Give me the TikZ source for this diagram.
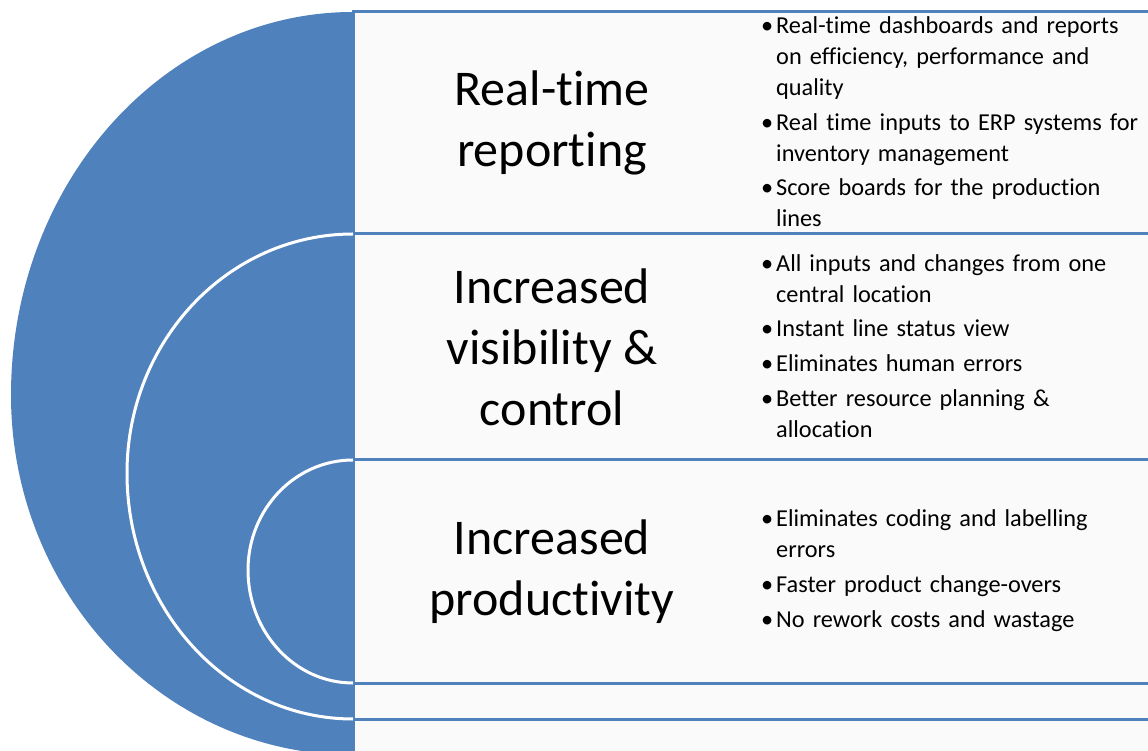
\documentclass[tikz,border=0pt]{standalone}
\usepackage{fontspec}
\setmainfont{Carlito}[Ligatures=NoCommon]
\usetikzlibrary{positioning}
\newcommand{\myunit}{1pt}
\definecolor{bleu}{RGB}{79,129,189}
\newcommand{\puce}[1]{\hangindent=15pt\hangafter=1\noindent\makebox[15pt][l]{\textbullet}#1\par}
\tikzset{
    node style row/.style={draw=bleu,line width=3pt,fill=black!2,rectangle,%
      anchor=north west,outer sep=0pt,inner sep=0pt,minimum width=820*\myunit},
    node style title/.style={align=center,font=\fontsize{50}{61}\selectfont},
    node style list/.style={anchor=west,inner sep=0pt,yshift=1*\myunit,text width=385*\myunit,%
      align=left,font=\fontsize{24.3}{30.8}\selectfont,execute at begin node={\setlength{\parskip}{4pt}}},
    arc style white/.style={white,line width=3pt},
}

\begin{document}
\begin{tikzpicture}[x=\myunit,y=\myunit]
\path[use as bounding box,fill=white] (0,0) rectangle (1148,750);
% les lignes
\node[node style row,minimum height=222*\myunit] (R1) at (353,738) {};
\node[node style row,minimum height=226*\myunit] (R2) at (353,516) {};
\node[node style row,minimum height=223*\myunit] (R3) at (353,290) {};
\node[node style row,minimum height=36*\myunit]  (R4) at (353,67) {};
\node[node style row,minimum height=50*\myunit]  (R5) at (353,31) {};
% le demi-disque
\begin{scope}
\clip (0,0) rectangle (354.5,750);
\fill[bleu] (R1.north west)
  arc[start angle=90,end angle=180,x radius=342,y radius=383]
  arc[start angle=180,end angle=270,x radius=342,y radius=360] -- cycle;
\draw[arc style white] (R2.north west)
  arc[start angle=90,end angle=180,x radius=226,y radius=239]
  arc[start angle=180,end angle=270,x radius=226,y radius=246];
\draw[arc style white] (R3.north west)
  arc[start angle=90,end angle=180,x radius=105,y radius=110]
  arc[start angle=180,end angle=270,x radius=105,y radius=113];
\end{scope}
% les titres
\node[node style title] (T1) at (552,0 |- R1.center) {Real-time\\reporting};
\node[node style title] (T2) at (552,0 |- R2.center) {Increased\\visibility \&\\control};
\node[node style title] (T3) at (552,0 |- R3.center) {Increased\\productivity};
% les listes
\node[node style list] (L1) at (761,0 |- R1.center) {%
\puce{Real-time dashboards and reports\newline on efficiency, performance and\newline quality}
\puce{Real time inputs to ERP systems for\newline inventory management}
\puce{Score boards for the production\newline lines}};
\node[node style list] (L2) at (761,0 |- R2.center) {%
\puce{All inputs and changes from one\newline central location}
\puce{Instant line status view}
\puce{Eliminates human errors}
\puce{Better resource planning \&\newline allocation}};
\node[node style list] (L3) at (761,0 |- R3.center) {%
\puce{Eliminates coding and labelling\newline errors}
\puce{Faster product change-overs}
\puce{No rework costs and wastage}};
\end{tikzpicture}
\end{document}
